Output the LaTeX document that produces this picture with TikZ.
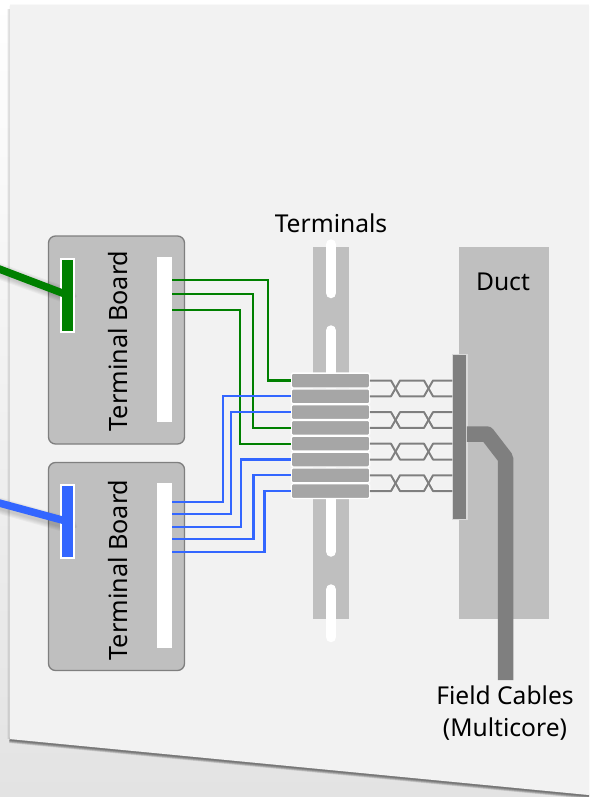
\documentclass[tikz,border=0pt]{standalone}
\usepackage{fontspec}
\setmainfont{Noto Sans}
\usetikzlibrary{calc}
\definecolor{pagec}{HTML}{F2F2F2}
\definecolor{panel}{HTML}{BFBFBF}
\definecolor{edge}{HTML}{7F7F7F}
\definecolor{rowc}{HTML}{A6A6A6}
\definecolor{gw}{HTML}{008000}
\definecolor{bw}{HTML}{3366FF}
\tikzset{
  lbl/.style={font=\fontsize{24.6}{32}\selectfont,text=black,inner sep=0pt,align=center},
  vlbl/.style={font=\fontsize{25.2}{32}\selectfont,text=black,inner sep=0pt,rotate=90},
  board/.style={draw=edge,line width=1.3pt,fill=panel,rounded corners=7pt,minimum width=136pt,minimum height=208pt,inner sep=0pt,outer sep=0pt},
  strip/.style={fill=white,minimum width=15pt,minimum height=165pt,inner sep=0pt,outer sep=0pt},
  tee/.style={draw=white,line width=2pt,minimum width=13pt,minimum height=73pt,inner sep=0pt,outer sep=0pt},
  rowbox/.style={draw=white,line width=1.3pt,fill=rowc,rounded corners=1.5pt,minimum width=78.5pt,minimum height=14.8pt,inner sep=0pt,outer sep=0pt},
  rail/.style={fill=panel,minimum width=36pt,minimum height=372.5pt,inner sep=0pt,outer sep=0pt},
  slot/.style={line width=10.5pt,white,line cap=round},
  duct/.style={fill=panel,minimum width=90pt,minimum height=372pt,inner sep=0pt,outer sep=0pt},
  gwire/.style={draw=gw,line width=2.2pt},
  bwire/.style={draw=bw,line width=2.2pt},
  twist/.style={draw=edge,line width=2pt,line join=round},
  halo/.style={draw=white,line width=3.6pt,opacity=.3,line join=round},
  cablec/.style={draw=edge,line width=15.5pt,line join=round},
}
\begin{document}
\begin{tikzpicture}[x=1pt,y=-1pt]
\clip (0,0) rectangle (589,797);
% backdrop and sheet
\shade[top color=white,bottom color=black!11] (0,0) rectangle (589,797);
\foreach \w in {1,2,3,4,5}{
  \draw[black,opacity=.035,line width=\w pt,line join=round] (9.5,9) -- (9.5,739);
}
\foreach \w in {1,2,3,4,5,6}{
  \draw[black,opacity=.1,line width=\w pt,line join=round] (9.5,740) -- (600,797);
}
\foreach \w in {1,2,3,4}{
  \draw[black,opacity=.012,line width=\w pt,line join=round] (600,6) -- (9.5,6);
}
\fill[pagec] (9.5,6) -- (589,6) -- (589,795) -- (9.5,739) -- cycle;
% rail and duct
\node[rail] (rail) at (331,432.8) {};
\draw[slot] (331,244.5) -- (331,293);
\draw[slot] (331,330.5) -- (331,551.5);
\draw[slot] (331,589.5) -- (331,637);
\node[duct] (duct) at (504,433) {};
\node[lbl] (tlabel) at (331,223) {Terminals};
\node[lbl] (dlabel) at (503,282) {Duct};
\node[lbl] (flabel) at (505,713) {Field Cables\\(Multicore)};
% boards
\node[board] (b1) at (116.5,340) {};
\node[board] (b2) at (116.5,566.5) {};
\node[strip] (s1) at (164.5,339.5) {};
\node[strip] (s2) at (164.5,565.5) {};
\node[vlbl] (l1) at (118,341) {Terminal Board};
\node[vlbl] (l2) at (118,570) {Terminal Board};
% incoming cable shadows
\foreach \w in {8,10,12,14,16}{
  \draw[black,opacity=.035,line width=\w pt] (-10,268) -- (68,296) -- (70,300);
  \draw[black,opacity=.035,line width=\w pt] (-10,503) -- (68,525) -- (70,530);
}
\coordinate (gin) at (-10,265.5);
\coordinate (bin) at (-10,500.5);
% tees
\node[tee,fill=gw] (t1) at (67.5,295) {};
\node[tee,fill=bw] (t2) at (67.5,521.5) {};
\draw[draw=gw,line width=7.5pt] (gin) -- (t1.center);
\draw[draw=bw,line width=7.5pt] (bin) -- (t2.center);
\fill[gw] (t1.north west) ++(1,1) rectangle ($(t1.south east)+(-1,-1)$);
\fill[bw] (t2.north west) ++(1,1) rectangle ($(t2.south east)+(-1,-1)$);
% terminal rows
\foreach \n/\y in {1/380.5,2/396.3,3/412.1,4/427.9,5/443.7,6/459.5,7/475.3,8/491.1}{
  \node[rowbox] (r\n) at (330.5,\y) {};
}
% board outputs
\coordinate (g1) at (172,280);
\coordinate (g2) at (172,294);
\coordinate (g3) at (172,309.7);
\coordinate (u1) at (172,501.7);
\coordinate (u2) at (172,514.3);
\coordinate (u3) at (172,527);
\coordinate (u4) at (172,539.3);
\coordinate (u5) at (172,552.3);
\coordinate (vg1) at (268,330);
\coordinate (vg2) at (253,330);
\coordinate (vg3) at (240,330);
\coordinate (vb1) at (223,450);
\coordinate (vb2) at (231,450);
\coordinate (vb3) at (241,500);
\coordinate (vb4) at (253.5,500);
\coordinate (vb5) at (264.5,500);
\draw[gwire] (g1) -| (vg1) |- (r1.west);
\draw[gwire] (g2) -| (vg2) |- (r4.west);
\draw[gwire] (g3) -| (vg3) |- (r5.west);
\draw[bwire] (u1) -| (vb1) |- (r2.west);
\draw[bwire] (u2) -| (vb2) |- (r3.west);
\draw[bwire] (u3) -| (vb3) |- (r6.west);
\draw[bwire] (u4) -| (vb4) |- (r7.west);
\draw[bwire] (u5) -| (vb5) |- (r8.west);
% field cable and gland bar
\coordinate (cb) at (505,680);
\coordinate (c1) at (487,434);
\coordinate (c2) at (505.5,458);
\node[minimum width=14.5pt,minimum height=165pt,draw=black!15,line width=1.5pt,fill=edge,inner sep=0pt,outer sep=0pt] (bar) at (459.5,437) {};
\draw[cablec] (bar.east |- c1) -- (c1) -- (c2) -- (c2 |- cb);
\fill[edge] (bar.north west) ++(1,1) rectangle ($(bar.south east)+(-1,-1)$);
% twisted pairs
\coordinate (x1) at (391,0);
\coordinate (x2) at (400,0);
\coordinate (x3) at (424,0);
\coordinate (x4) at (433,0);
\foreach \a/\b in {1/2,3/4,5/6,7/8}{
  \foreach \st in {halo,twist}{
    \draw[\st] (r\a.east) -- (x1 |- r\a.east) -- (x2 |- r\b.east) -- (x3 |- r\b.east) -- (x4 |- r\a.east) -- (bar.west |- r\a.east);
    \draw[\st] (r\b.east) -- (x1 |- r\b.east) -- (x2 |- r\a.east) -- (x3 |- r\a.east) -- (x4 |- r\b.east) -- (bar.west |- r\b.east);
  }
}
\end{tikzpicture}
\end{document}
